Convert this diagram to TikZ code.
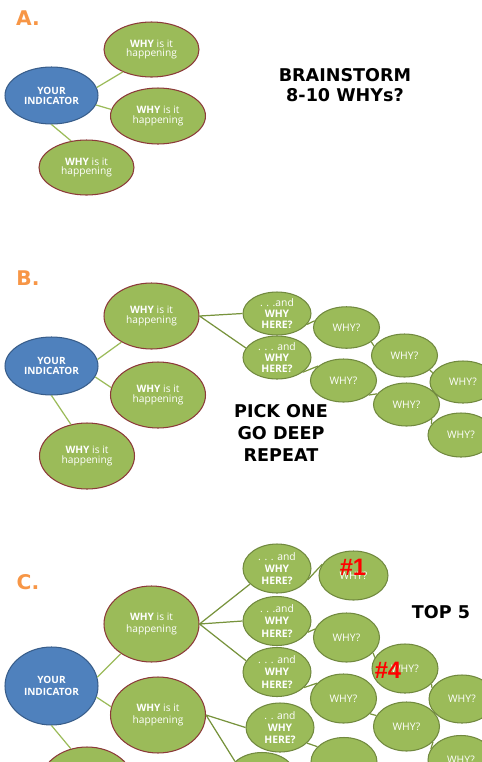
\documentclass[tikz,border=0pt]{standalone}
\usepackage{fontspec}
\usetikzlibrary{shapes.geometric}
\newfontfamily\bodyfont{Open Sans}
\newfontfamily\headfont{DejaVu Sans}
\newfontfamily\numfont{Liberation Sans}
\definecolor{indblue}{HTML}{4F81BD}
\definecolor{indedge}{HTML}{385D8A}
\definecolor{whygreen}{HTML}{9BBB59}
\definecolor{whyedge}{HTML}{71893F}
\definecolor{reasonedge}{HTML}{8C3A3A}
\definecolor{chainolive}{HTML}{77933C}
\definecolor{steporange}{HTML}{F79646}
\tikzset{
  hub/.style={ellipse, fill=indblue, draw=indedge, line width=0.6pt, text=white, align=center, inner sep=0pt,
    minimum width=1.86cm, font=\bodyfont\bfseries\fontsize{5.7}{#1}\selectfont},
  reason/.style={ellipse, fill=whygreen, draw=reasonedge, line width=0.6pt, text=white, align=center, inner sep=0pt,
    minimum width=1.9cm, font=\bodyfont\fontsize{5.8}{#1}\selectfont},
  deeper/.style={ellipse, fill=whygreen, draw=whyedge, line width=0.6pt, text=white, align=center, inner sep=0pt,
    minimum width=1.32cm, font=\bodyfont\fontsize{5.9}{#1}\selectfont},
  rootline/.style={draw=whygreen, line width=0.7pt},
  chainline/.style={draw=chainolive, line width=0.7pt},
  steplabel/.style={text=steporange, font=\headfont\bfseries\fontsize{11.5}{13}\selectfont},
  headline/.style={align=center, font=\headfont\bfseries\fontsize{10}{#1}\selectfont},
  ranklabel/.style={text=red, font=\numfont\bfseries\fontsize{13.5}{15}\selectfont}
}
\begin{document}
\begin{tikzpicture}[x=0.02cm, y=-0.02cm]
  \useasboundingbox (0,0) rectangle (482,762);
  \clip (0,0) rectangle (482,762);

  % A. brainstorm
  \node[steplabel] (a-lbl) at (28,18) {A.};
  \node[hub=5.7pt, minimum height=1.14cm] (a-you) at (51.5,95.5) {YOUR\\INDICATOR};
  \node[reason=5.2pt, minimum height=1.1cm] (a-w1) at (151.5,49.5) {\textbf{WHY} is it\\happening};
  \node[reason=5.2pt, minimum height=1.12cm] (a-w2) at (158,116) {\textbf{WHY} is it\\happening};
  \node[reason=5.2pt, minimum height=1.1cm] (a-w3) at (86.5,167.5) {\textbf{WHY} is it\\happening};
  \draw[rootline] (a-you.10) -- (a-w1.218) (a-you.-12) -- (a-w2.172) (a-you.south) -- (a-w3.120);
  \node[headline=11.5pt] (a-txt) at (345,85) {BRAINSTORM\\8-10 WHYs?};

  % B. pick one and go deep
  \node[steplabel] (b-lbl) at (28,278) {B.};
  \node[hub=6pt, minimum height=1.16cm] (b-you) at (51.5,366) {YOUR\\INDICATOR};
  \node[reason=6.1pt, minimum height=1.32cm] (b-w1) at (151.5,316) {\textbf{WHY} is it\\happening};
  \node[reason=6.1pt, minimum height=1.32cm] (b-w2) at (158,395) {\textbf{WHY} is it\\happening};
  \node[reason=6.1pt, minimum height=1.32cm] (b-w3) at (87,456) {\textbf{WHY} is it\\happening};
  \draw[rootline] (b-you.8) -- (b-w1.221) (b-you.-14) -- (b-w2.171) (b-you.south) -- (b-w3.117);
  \node[deeper=6.3pt, minimum width=1.36cm, minimum height=0.86cm] (b-and1) at (277,313.5) {. . .and\\\textbf{WHY}\\\textbf{HERE?}};
  \node[deeper=6.3pt, minimum width=1.36cm, minimum height=0.86cm] (b-and2) at (277,357.5) {. . . and\\\textbf{WHY}\\\textbf{HERE?}};
  \node[deeper=7pt, minimum height=0.83cm] (b-y1) at (346.5,327.5) {WHY?};
  \node[deeper=7pt, minimum height=0.86cm] (b-y2) at (404.5,355.5) {WHY?};
  \node[deeper=7pt, minimum height=0.84cm] (b-y3) at (463,382) {WHY?};
  \node[deeper=7pt, minimum height=0.86cm] (b-y4) at (343.5,380.5) {WHY?};
  \node[deeper=7pt, minimum height=0.86cm] (b-y5) at (406.5,404.5) {WHY?};
  \node[deeper=7pt, minimum height=0.88cm] (b-y6) at (461,435) {WHY?};
  \draw[chainline] (b-w1.east) -- (b-and1.west) (b-w1.east) -- (b-and2.163);
  \draw[chainline] (b-and1.-20) -- (b-y1.168) (b-y1.-30) -- (b-y2.163) (b-y2.-30) -- (b-y3.163);
  \draw[chainline] (b-and2.-30) -- (b-y4.150) (b-y4.-30) -- (b-y5.160) (b-y5.-30) -- (b-y6.160);
  \node[headline=12.5pt] (b-txt) at (281,433) {PICK ONE\\GO DEEP\\REPEAT};

  % C. top five
  \node[steplabel] (c-lbl) at (28,582) {C.};
  \node[hub=7pt, minimum height=1.56cm] (c-you) at (51.5,686) {YOUR\\INDICATOR};
  \node[reason=7pt, minimum height=1.52cm] (c-w1) at (151.5,624) {\textbf{WHY} is it\\happening};
  \node[reason=7pt, minimum height=1.52cm] (c-w2) at (158,715) {\textbf{WHY} is it\\happening};
  \node[reason=7pt, minimum height=1.52cm] (c-w3) at (87,785) {\textbf{WHY} is it\\happening};
  \draw[rootline] (c-you.11) -- (c-w1.224) (c-you.-14) -- (c-w2.170) (c-you.south) -- (c-w3.114);
  \node[deeper=7pt, minimum width=1.36cm, minimum height=0.98cm] (c-and1) at (277,568.5) {. . . and\\\textbf{WHY}\\\textbf{HERE?}};
  \node[deeper=7pt, minimum width=1.36cm, minimum height=0.98cm] (c-and2) at (277,621) {. . .and\\\textbf{WHY}\\\textbf{HERE?}};
  \node[deeper=7pt, minimum width=1.36cm, minimum height=0.98cm] (c-and3) at (277,672) {. . . and\\\textbf{WHY}\\\textbf{HERE?}};
  \node[deeper=7pt, minimum width=1.36cm, minimum height=0.98cm] (c-and4) at (280,727.5) {. . and\\\textbf{WHY}\\\textbf{HERE?}};
  \node[deeper=7pt, minimum width=1.36cm, minimum height=0.98cm] (c-and5) at (262,777) {};
  \node[deeper=7pt, minimum width=1.38cm, minimum height=0.98cm] (c-y1) at (353.5,575.5) {WHY?};
  \node[deeper=7pt, minimum height=0.98cm] (c-y2) at (346.5,637.5) {WHY?};
  \node[deeper=7pt, minimum height=0.98cm] (c-y3) at (405,668.5) {WHY?};
  \node[deeper=7pt, minimum height=0.96cm] (c-y4) at (462,699) {WHY?};
  \node[deeper=7pt, minimum height=0.98cm] (c-y5) at (343.5,698.5) {WHY?};
  \node[deeper=7pt, minimum height=0.98cm] (c-y6) at (406.5,726.5) {WHY?};
  \node[deeper=7pt, minimum height=0.98cm] (c-y7) at (461,760) {WHY?};
  \node[deeper=7pt, minimum height=0.98cm] (c-y8) at (344,762) {};
  \draw[chainline] (c-w1.east) -- (c-and1.210) (c-w1.east) -- (c-and2.west) (c-w1.east) -- (c-and3.160);
  \draw[chainline] (c-w2.east) -- (c-and4.west) (c-w2.east) -- (c-and5.150);
  \draw[chainline] (c-and1.-20) -- (c-y1.160);
  \draw[chainline] (c-and2.-20) -- (c-y2.165) (c-y2.-30) -- (c-y3.160) (c-y3.-30) -- (c-y4.160);
  \draw[chainline] (c-and3.-30) -- (c-y5.150) (c-y5.-30) -- (c-y6.160) (c-y6.-30) -- (c-y7.160);
  \draw[chainline] (c-and4.-30) -- (c-y8.150);
  \node[ranklabel] (c-r1) at (353,567) {\#1};
  \node[ranklabel] (c-r4) at (388,670) {\#4};
  \node[headline=12pt] (c-txt) at (441,612) {TOP 5};
\end{tikzpicture}
\end{document}
